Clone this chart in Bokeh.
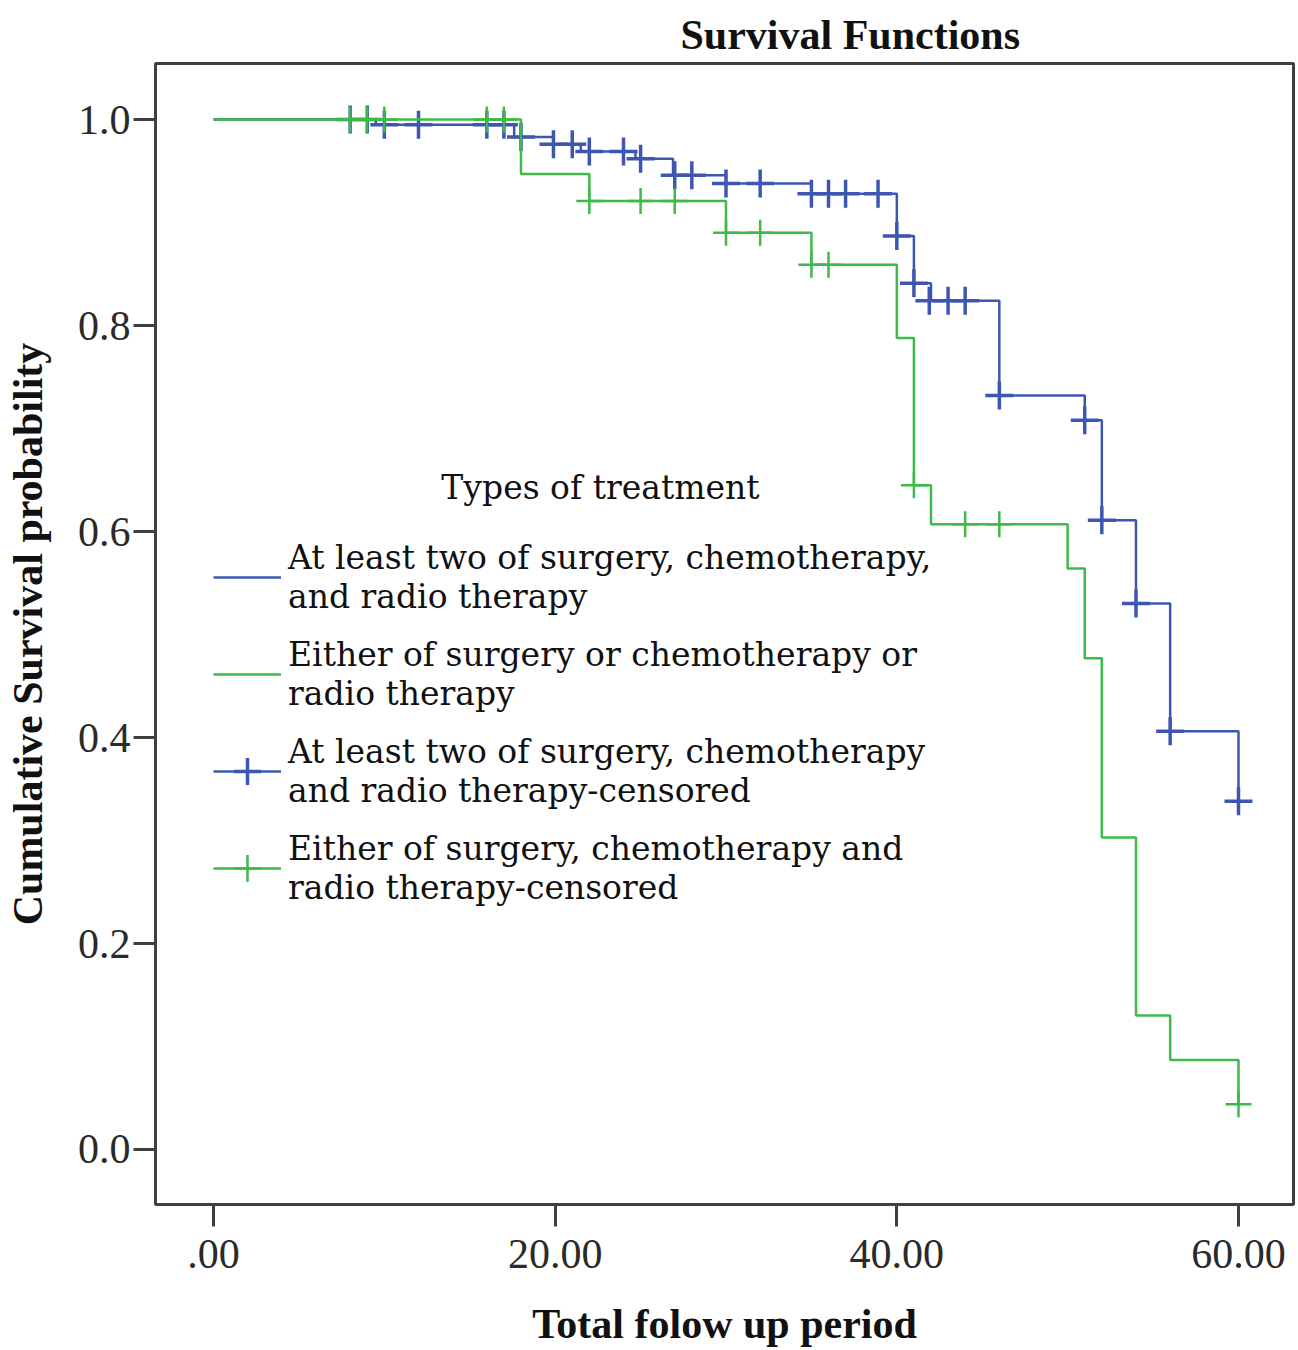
from bokeh.plotting import figure
from bokeh.models import Range1d, FixedTicker, Legend, LegendItem, Label
from bokeh.embed import file_html
from bokeh.resources import INLINE

# ---- data ----
blue_time = [0, 9.5, 17.6, 19.9, 21.5, 24.7, 26.9, 30, 35, 40, 41, 42, 46, 51, 52, 54, 56, 60]
blue_surv = [1.0, 0.995, 0.983, 0.976, 0.969, 0.962, 0.946, 0.938, 0.928, 0.887, 0.841, 0.824,
             0.732, 0.708, 0.611, 0.530, 0.406, 0.338]
blue_cens_time = [8, 9, 10, 12, 16, 17, 18, 19.9, 21, 22, 24, 25, 27, 28, 30, 32, 35, 36, 37, 38.9,
                  40, 41, 41.9, 43, 44, 46, 51, 52, 54, 56, 60]
blue_cens_surv = [1.0, 1.0, 0.995, 0.995, 0.995, 0.995, 0.983, 0.976, 0.976, 0.969, 0.969, 0.962,
                  0.946, 0.946, 0.938, 0.938, 0.928, 0.928, 0.928, 0.928, 0.887, 0.841, 0.824,
                  0.824, 0.824, 0.732, 0.708, 0.611, 0.530, 0.406, 0.338]

green_time = [0, 18, 22, 30, 35, 40, 41, 42, 50, 51, 52, 54, 56, 60]
green_surv = [1.0, 0.947, 0.921, 0.890, 0.859, 0.788, 0.645, 0.607, 0.564, 0.477, 0.303, 0.130, 0.087, 0.044]
green_cens_time = [8, 9, 10, 16, 17, 22, 25, 27, 30, 32, 35, 36, 41, 44, 46, 60]
green_cens_surv = [1.0, 1.0, 1.0, 1.0, 1.0, 0.921, 0.921, 0.921, 0.890, 0.890, 0.859, 0.859,
                   0.645, 0.607, 0.607, 0.044]

x_ticks = [0, 20, 40, 60]
x_tick_labels = [".00", "20.00", "40.00", "60.00"]
y_ticks = [0.0, 0.2, 0.4, 0.6, 0.8, 1.0]
y_tick_labels = ["0.0", "0.2", "0.4", "0.6", "0.8", "1.0"]

series_labels = [
    "At least two of surgery, chemotherapy,\nand radio therapy",
    "Either of surgery or chemotherapy or\nradio therapy",
    "At least two of surgery, chemotherapy\nand radio therapy-censored",
    "Either of surgery, chemotherapy and\nradio therapy-censored",
]

BLUE = "#3D57B0"
GREEN = "#3DBA48"
SERIF = "Liberation Serif"
LEG_FONT = "DejaVu Serif"

p = figure(width=1298, height=1350, output_backend="svg", toolbar_location=None,
           x_range=Range1d(-3.395, 63.22), y_range=Range1d(-0.0534, 1.0544),
           min_border_left=155, min_border_right=5, min_border_top=63, min_border_bottom=146)

p.xgrid.visible = False
p.ygrid.visible = False
p.background_fill_color = "white"
p.border_fill_color = "white"
p.outline_line_color = "#404040"
p.outline_line_width = 3

# title
p.title.text = "Survival Functions"
p.title.text_font = SERIF
p.title.text_font_size = "42px"
p.title.text_font_style = "bold"
p.title.text_color = "#111111"
p.title.align = "left"
p.title.offset = 525
p.title.standoff = 8
p.title.vertical_align = "top"

# axes
for ax in (p.xaxis[0], p.yaxis[0]):
    ax.axis_line_color = None
    ax.major_tick_line_color = "#404040"
    ax.major_tick_line_width = 3
    ax.major_tick_out = 22
    ax.major_tick_in = 0
    ax.minor_tick_line_color = None
    ax.major_label_text_font = SERIF
    ax.major_label_text_font_size = "42px"
    ax.major_label_text_color = "#2a2a2a"
    ax.axis_label_text_font = SERIF
    ax.axis_label_text_font_style = "bold"
    ax.axis_label_text_color = "#111111"

p.xaxis.ticker = FixedTicker(ticks=x_ticks)
p.xaxis.major_label_overrides = dict(zip(x_ticks, x_tick_labels))
p.xaxis.major_label_standoff = 13
p.xaxis.axis_label = "Total folow up period"
p.xaxis.axis_label_text_font_size = "42px"
p.xaxis.axis_label_standoff = 30

p.yaxis.ticker = FixedTicker(ticks=y_ticks)
p.yaxis.major_label_overrides = dict(zip(y_ticks, y_tick_labels))
p.yaxis.major_label_standoff = 3
p.yaxis.axis_label = "Cumulative Survival probability"
p.yaxis.axis_label_text_font_size = "42px"
p.yaxis.axis_label_standoff = 24

# curves
blue_line = p.step(blue_time, blue_surv, mode="after", line_color=BLUE, line_width=2.5)
blue_cross = p.scatter(blue_cens_time, blue_cens_surv, marker="cross", size=28,
                       line_color=BLUE, line_width=3.5)
green_line = p.step(green_time, green_surv, mode="after", line_color=GREEN, line_width=2.5)
green_cross = p.scatter(green_cens_time, green_cens_surv, marker="cross", size=26,
                        line_color=GREEN, line_width=2.5)

# legend
legend = Legend(items=[
    LegendItem(label=series_labels[0], renderers=[blue_line]),
    LegendItem(label=series_labels[1], renderers=[green_line]),
    LegendItem(label=series_labels[2], renderers=[blue_line, blue_cross]),
    LegendItem(label=series_labels[3], renderers=[green_line, green_cross]),
], location=(58, 291), orientation="vertical")
legend.padding = 0
legend.margin = 0
legend.spacing = 7
legend.glyph_width = 68
legend.glyph_height = 90
legend.label_standoff = 7
legend.border_line_color = None
legend.background_fill_alpha = 0
legend.label_text_font = LEG_FONT
legend.label_text_font_size = "33px"
legend.label_text_color = "#111111"
legend.label_text_line_height = 1.36
p.add_layout(legend, "center")

legend_title = Label(x=22.65, y=0.643, text="Types of treatment", text_align="center",
                     text_baseline="middle", text_font=LEG_FONT, text_font_size="33px",
                     text_color="#111111")
p.add_layout(legend_title)

open("out.html", "w").write(file_html(p, INLINE))
